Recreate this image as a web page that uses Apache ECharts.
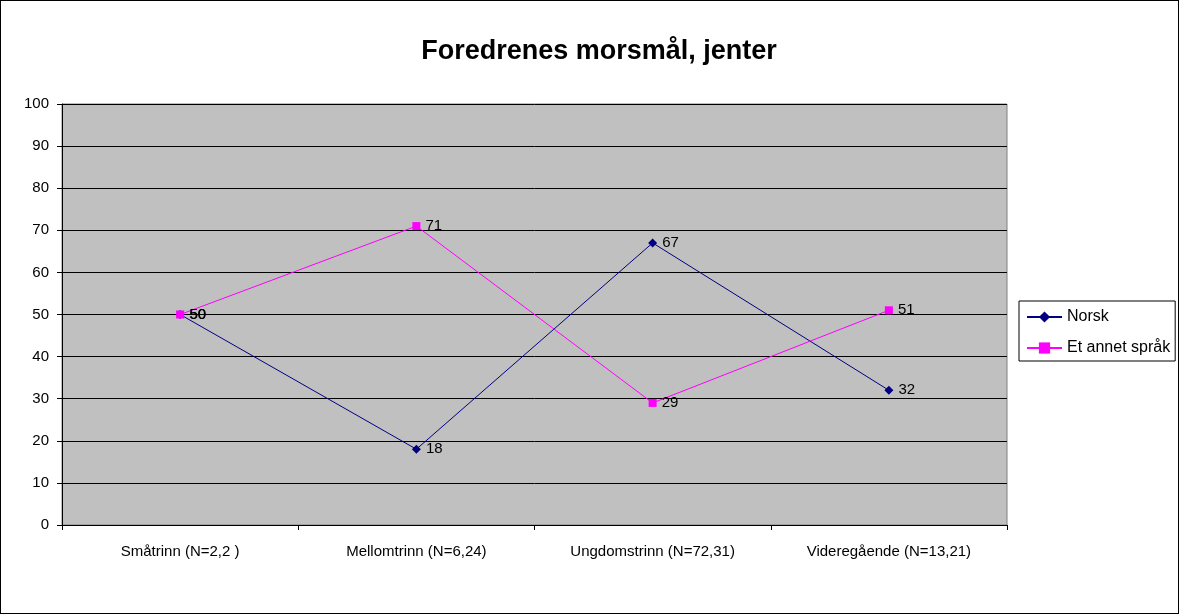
<!DOCTYPE html>
<html>
<head>
<meta charset="utf-8">
<script src="https://cdn.jsdelivr.net/npm/echarts@6/dist/echarts.min.js"></script>
<style>
  html, body { margin: 0; padding: 0; background: #fff; }
  #frame { position: absolute; left: 0; top: 0; width: 1179px; height: 614px; box-sizing: border-box; border: 1px solid #000; }
  #chart { position: absolute; left: 0; top: 0; width: 1179px; height: 614px; }
</style>
</head>
<body>
<div id="frame"></div>
<div id="chart"></div>
<script>
// kategorier og verdier (lest av figuren)
var categories = ['Småtrinn (N=2,2 )', 'Mellomtrinn (N=6,24)', 'Ungdomstrinn (N=72,31)', 'Videregående (N=13,21)'];
var norsk = [50, 18, 67, 32];
var annetSprak = [50, 71, 29, 51];
var yTicks = [0, 100, 10];

var chart = echarts.init(document.getElementById('chart'));

var labelStyle = {
    show: true,
    position: 'right',
    distance: 5,
    color: '#000',
    fontFamily: 'Liberation Sans, Arial, sans-serif',
    fontSize: 15
};

var option = {
    animation: false,
    textStyle: { fontFamily: 'Liberation Sans, Arial, sans-serif' },
    title: {
        text: 'Foredrenes morsmål, jenter',
        left: 594,
        textAlign: 'center',
        top: 33,
        textStyle: { fontSize: 27, fontWeight: 'bold', color: '#000', fontFamily: 'Liberation Sans, Arial, sans-serif' }
    },
    legend: {
        orient: 'vertical',
        left: 1019,
        top: 301,
        width: 158,
        padding: [8, 5, 5, 7],
        itemGap: 15,
        itemWidth: 35,
        itemHeight: 14,
        borderColor: '#000',
        borderWidth: 1,
        backgroundColor: '#fff',
        textStyle: { color: '#000', fontSize: 16 },
        data: ['Norsk', 'Et annet språk']
    },
    grid: {
        left: 62,
        right: 172,
        top: 104,
        bottom: 89,
        show: true,
        backgroundColor: '#c0c0c0',
        borderColor: '#808080',
        borderWidth: 1
    },
    xAxis: {
        type: 'category',
        data: categories,
        boundaryGap: true,
        axisLine: { lineStyle: { color: '#000', width: 1 } },
        axisTick: { show: true, length: 5, lineStyle: { color: '#000' } },
        axisLabel: { color: '#000', fontSize: 15, margin: 19 }
    },
    yAxis: {
        type: 'value',
        min: yTicks[0],
        max: yTicks[1],
        interval: yTicks[2],
        axisLine: { show: true, lineStyle: { color: '#000', width: 1 } },
        axisTick: { show: true, length: 5, lineStyle: { color: '#000' } },
        axisLabel: { color: '#000', fontSize: 15, margin: 13 },
        splitLine: { show: true, lineStyle: { color: '#000', width: 1 } }
    },
    series: [
        {
            name: 'Norsk',
            type: 'line',
            data: norsk,
            symbol: 'diamond',
            symbolSize: 9,
            color: '#000080',
            lineStyle: { color: '#000080', width: 1 },
            itemStyle: { color: '#000080' },
            label: labelStyle
        },
        {
            name: 'Et annet språk',
            type: 'line',
            data: annetSprak,
            symbol: 'rect',
            symbolSize: 8,
            color: '#ff00ff',
            lineStyle: { color: '#ff00ff', width: 1 },
            itemStyle: { color: '#ff00ff' },
            label: labelStyle
        }
    ]
};

chart.setOption(option);
</script>
</body>
</html>
